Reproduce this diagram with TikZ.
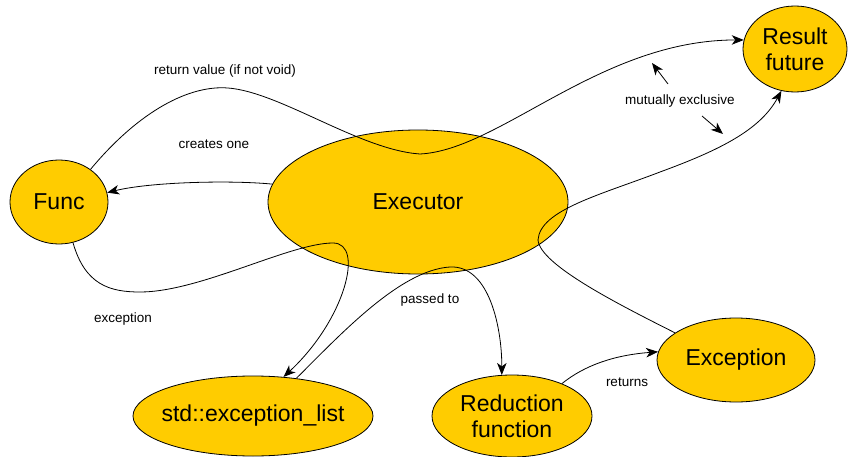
\documentclass[tikz,border=0pt]{standalone}
\usepackage{fontspec}
\setmainfont{Liberation Sans}
\usetikzlibrary{shapes.geometric,arrows.meta}
\definecolor{nodeyellow}{RGB}{255,204,0}
\tikzset{
  blob/.style={ellipse,draw=black,line width=0.8pt,fill=nodeyellow,inner sep=0pt,align=center,
    font=\fontsize{23}{26}\selectfont},
  conn/.style={draw=black,line width=0.8pt},
  arr/.style={conn,-{Stealth[length=12pt,width=9.5pt,inset=3.5pt]}},
  lbl/.style={font=\fontsize{13.5}{16}\selectfont,inner sep=0pt}
}
\begin{document}
\begin{tikzpicture}[x=1pt,y=-1pt]
\useasboundingbox (0,0) rectangle (848,457);
% nodes
\node[blob,minimum width=98pt,minimum height=84pt] (func) at (59,202) {Func};
\node[blob,minimum width=300pt,minimum height=144pt] (exec) at (418,202) {Executor};
\node[blob,minimum width=104pt,minimum height=86pt] (result) at (795,49) {Result\\future};
\node[blob,minimum width=240pt,minimum height=80pt,inner xsep=-10pt] (elist) at (253,416) {std::exception\_list};
\node[blob,minimum width=160pt,minimum height=82pt] (red) at (512,416) {Reduction\\function};
\node[blob,minimum width=158pt,minimum height=84pt] (exc) at (736,360) {Exception};
% connectors
\draw[arr] (exec.173) .. controls (230,180) and (150,182) .. (func.11);
\draw[arr] (func.46) .. controls (140,110) and (190,85) .. (228,88)
  .. controls (280,92) and (360,150) .. (420,154)
  .. controls (500,150) and (600,40) .. (result.170);
\draw[arr] (func.-71) .. controls (85,285) and (110,292) .. (140,292)
  .. controls (200,292) and (290,243) .. (333,243)
  .. controls (365,243) and (345,320) .. (elist.52);
\draw[arr] (elist.41) .. controls (340,335) and (400,270) .. (450,267)
  .. controls (490,265) and (502,330) .. (red.104);
\draw[arr] (red.33) .. controls (585,365) and (615,355) .. (exc.174);
\draw[arr] (exc.156) .. controls (620,305) and (540,265) .. (538,240)
  .. controls (540,210) and (600,195) .. (660,172)
  .. controls (720,150) and (760,130) .. (result.-108);
% labels
\node[lbl] (lret) at (225,71) {return value (if not void)};
\node[lbl] (lcre) at (214,144) {creates one};
\node[lbl] (lexc) at (123,319) {exception};
\node[lbl] (lpas) at (430,300) {passed to};
\node[lbl] (lrts) at (627,382) {returns};
\node[lbl] (lmut) at (680,101) {mutually exclusive};
\coordinate (m1a) at (668,84);
\coordinate (m1b) at (652,63);
\coordinate (m2a) at (702,116);
\coordinate (m2b) at (723,134);
\draw[arr] (m1a) -- (m1b);
\draw[arr] (m2a) -- (m2b);
\end{tikzpicture}
\end{document}
